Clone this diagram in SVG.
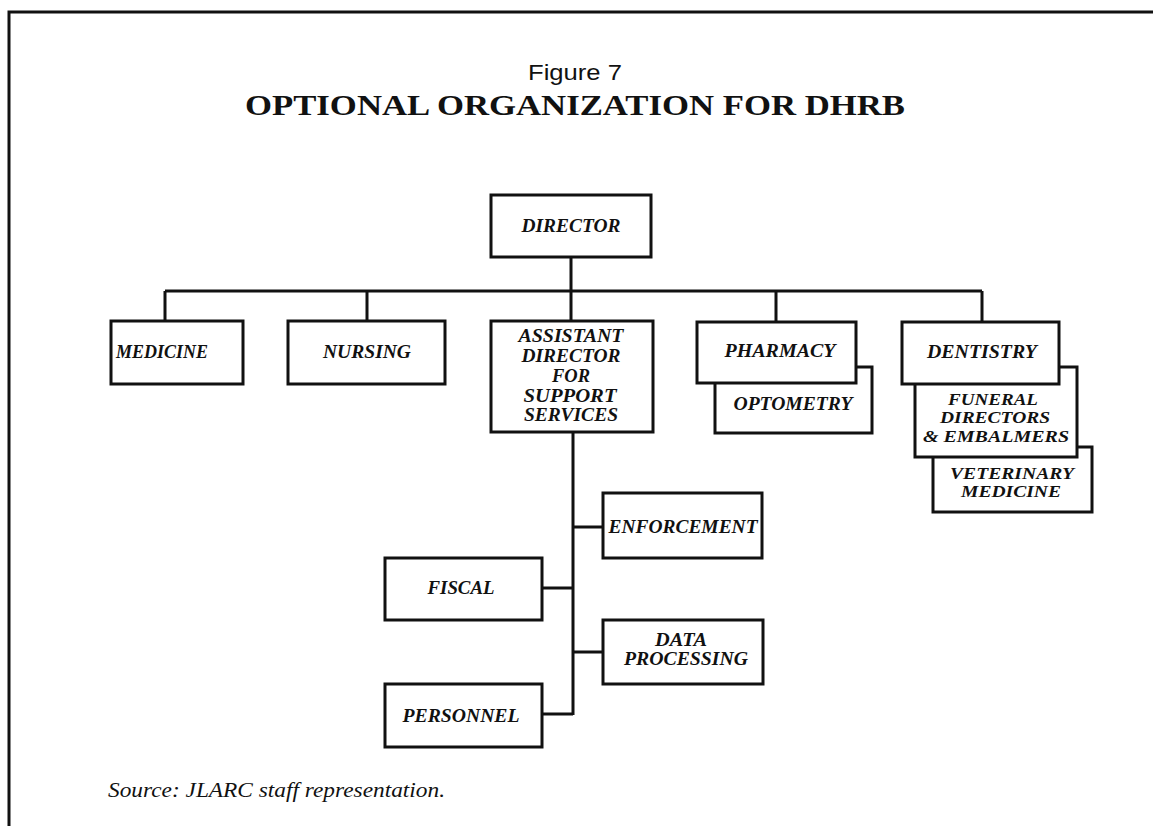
<svg xmlns="http://www.w3.org/2000/svg" width="1157" height="826" viewBox="0 0 1157 826">
<style>
.box{fill:#fff;stroke:#111;stroke-width:3}
.ln{fill:none;stroke:#111;stroke-width:3}
.t{font-family:"Liberation Serif",serif;font-style:italic;font-weight:bold;font-size:19px;fill:#111;text-anchor:middle}
.s{font-size:16.5px}
</style>
<rect x="0" y="0" width="1157" height="826" fill="#fff"/>
<g id="frame"><path class="ln" d="M9,826 L9,12 L1153,12"/></g>
<g id="titles">
<text x="575" y="80" font-family="Liberation Sans,sans-serif" font-size="22" text-anchor="middle" textLength="94" lengthAdjust="spacingAndGlyphs" fill="#111">Figure 7</text>
<text x="575" y="115" font-family="Liberation Serif,serif" font-weight="bold" font-size="30" text-anchor="middle" textLength="660" lengthAdjust="spacingAndGlyphs" fill="#111">OPTIONAL ORGANIZATION FOR DHRB</text>
</g>
<g id="connectors">
<path class="ln" d="M571,257 V291 M165,291 H982 M165,291 V321 M367,291 V321 M571,291 V321 M776,291 V322 M982,291 V322"/>
<path class="ln" d="M573,432 V715 M573,527 H603 M573,588 H542 M573,652 H603 M573,714 H542"/>
</g>
<g id="director"><rect class="box" x="491" y="195" width="160" height="62"/><text class="t" x="571" y="232" textLength="99" lengthAdjust="spacingAndGlyphs">DIRECTOR</text></g>
<g id="medicine"><rect class="box" x="111" y="321" width="132" height="63"/><text class="t" x="162" y="358" textLength="92" lengthAdjust="spacingAndGlyphs">MEDICINE</text></g>
<g id="nursing"><rect class="box" x="288" y="321" width="157" height="63"/><text class="t" x="367" y="358" textLength="88" lengthAdjust="spacingAndGlyphs">NURSING</text></g>
<g id="assistant"><rect class="box" x="491" y="321" width="162" height="111"/>
<text class="t" x="571" y="342" textLength="105" lengthAdjust="spacingAndGlyphs">ASSISTANT</text>
<text class="t" x="571" y="362" textLength="99" lengthAdjust="spacingAndGlyphs">DIRECTOR</text>
<text class="t" x="571" y="382" textLength="38" lengthAdjust="spacingAndGlyphs">FOR</text>
<text class="t" x="570" y="402" textLength="93" lengthAdjust="spacingAndGlyphs">SUPPORT</text>
<text class="t" x="571" y="421" textLength="94" lengthAdjust="spacingAndGlyphs">SERVICES</text></g>
<g id="optometry"><rect class="box" x="715" y="367" width="157" height="66"/><text class="t" x="793" y="410" textLength="119" lengthAdjust="spacingAndGlyphs">OPTOMETRY</text></g>
<g id="pharmacy"><rect class="box" x="697" y="322" width="159" height="61"/><text class="t" x="780" y="357" textLength="111" lengthAdjust="spacingAndGlyphs">PHARMACY</text></g>
<g id="veterinary"><rect class="box" x="933" y="447" width="159" height="65"/>
<text class="t s" x="1012" y="479" textLength="124" lengthAdjust="spacingAndGlyphs">VETERINARY</text>
<text class="t s" x="1011" y="497" textLength="100" lengthAdjust="spacingAndGlyphs">MEDICINE</text></g>
<g id="funeral"><rect class="box" x="915" y="367" width="162" height="90"/>
<text class="t s" x="993" y="405" textLength="90" lengthAdjust="spacingAndGlyphs">FUNERAL</text>
<text class="t s" x="995" y="423" textLength="110" lengthAdjust="spacingAndGlyphs">DIRECTORS</text>
<text class="t s" x="996" y="442" textLength="146" lengthAdjust="spacingAndGlyphs">&amp; EMBALMERS</text></g>
<g id="dentistry"><rect class="box" x="902" y="322" width="157" height="62"/><text class="t" x="982" y="358" textLength="110" lengthAdjust="spacingAndGlyphs">DENTISTRY</text></g>
<g id="enforcement"><rect class="box" x="603" y="493" width="159" height="65"/><text class="t" x="683" y="533" textLength="149" lengthAdjust="spacingAndGlyphs">ENFORCEMENT</text></g>
<g id="fiscal"><rect class="box" x="385" y="558" width="157" height="62"/><text class="t" x="461" y="594" textLength="67" lengthAdjust="spacingAndGlyphs">FISCAL</text></g>
<g id="dataprocessing"><rect class="box" x="603" y="620" width="160" height="64"/>
<text class="t" x="681" y="646" textLength="52" lengthAdjust="spacingAndGlyphs">DATA</text>
<text class="t" x="686" y="665" textLength="124" lengthAdjust="spacingAndGlyphs">PROCESSING</text></g>
<g id="personnel"><rect class="box" x="385" y="684" width="157" height="63"/><text class="t" x="461" y="722" textLength="117" lengthAdjust="spacingAndGlyphs">PERSONNEL</text></g>
<g id="source"><text x="108" y="797" font-family="Liberation Serif,serif" font-style="italic" font-size="22" textLength="337" lengthAdjust="spacingAndGlyphs" fill="#111">Source: JLARC staff representation.</text></g>
</svg>
